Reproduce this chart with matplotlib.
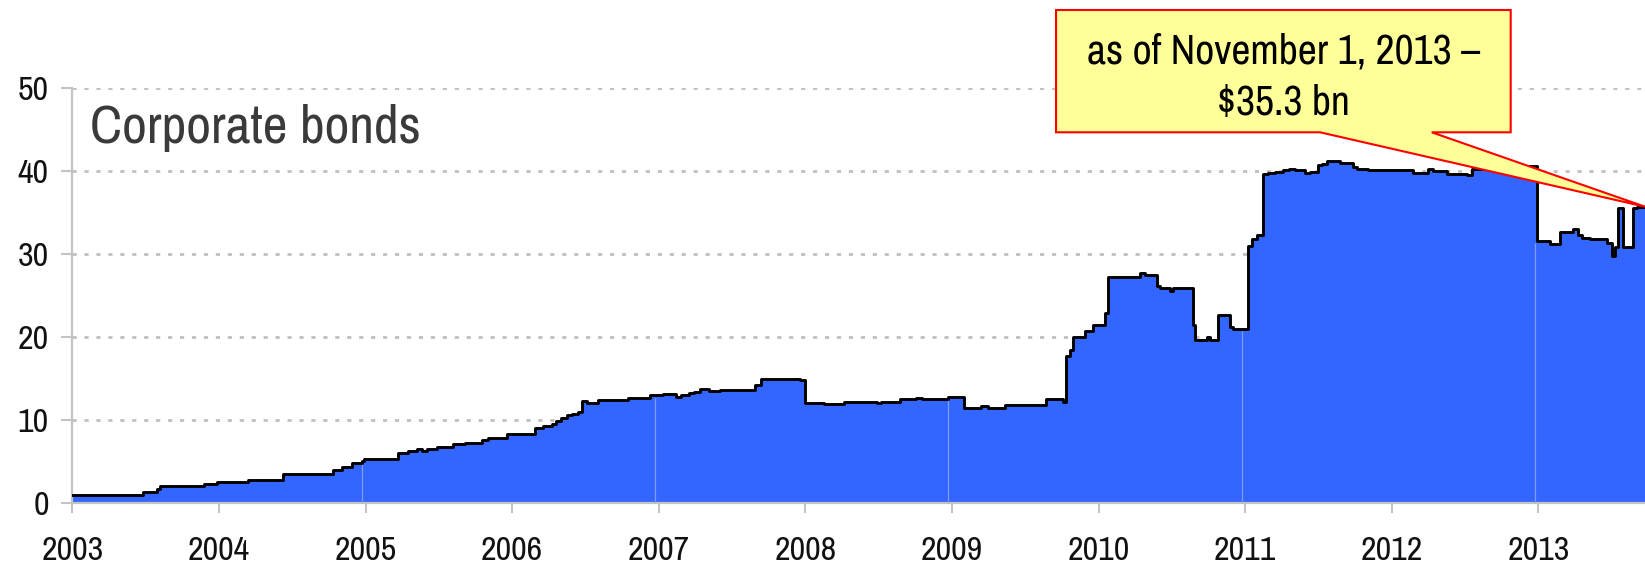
import numpy as np
import matplotlib
matplotlib.use('Agg')
from matplotlib import pyplot as plt
from matplotlib.patches import Polygon

plt.rcParams['font.family'] = ['Archivo Narrow', 'Liberation Sans', 'DejaVu Sans']

# step dates (decimal years) and outstanding volume, $ bn
dates = [2003.0, 2003.48, 2003.575, 2003.598, 2003.898, 2003.985, 2004.196, 2004.435,
         2004.781, 2004.838, 2004.906, 2004.974, 2004.99, 2005.224, 2005.292, 2005.349,
         2005.383, 2005.418, 2005.486, 2005.6, 2005.679, 2005.793, 2005.838, 2005.968,
         2006.157, 2006.208, 2006.271, 2006.296, 2006.334, 2006.372, 2006.41, 2006.447,
         2006.478, 2006.51, 2006.586, 2006.788, 2006.94, 2007.028, 2007.116, 2007.154,
         2007.204, 2007.242, 2007.28, 2007.343, 2007.419, 2007.495, 2007.659, 2007.696,
         2007.961, 2008.0, 2008.125, 2008.264, 2008.491, 2008.516, 2008.643, 2008.756,
         2008.794, 2008.971, 2009.084, 2009.198, 2009.249, 2009.362, 2009.64, 2009.755,
         2009.778, 2009.806, 2009.828, 2009.908, 2009.965, 2010.044, 2010.067, 2010.283,
         2010.317, 2010.397, 2010.42, 2010.488, 2010.51, 2010.647, 2010.658, 2010.738,
         2010.761, 2010.817, 2010.897, 2010.92, 2011.022, 2011.045, 2011.079, 2011.12,
         2011.158, 2011.204, 2011.26, 2011.301, 2011.34, 2011.408, 2011.442, 2011.499,
         2011.522, 2011.561, 2011.647, 2011.738, 2011.761, 2011.84, 2012.147, 2012.25,
         2012.284, 2012.375, 2012.511, 2012.545, 2012.7, 2012.85, 2012.989, 2013.08,
         2013.148, 2013.239, 2013.273, 2013.296, 2013.352, 2013.466, 2013.5, 2013.523,
         2013.546, 2013.58, 2013.648, 2013.671, 2013.84]
volume = [1.0, 1.35, 1.7, 2.05, 2.33, 2.57, 2.78, 3.55,
          4.0, 4.29, 4.82, 5.06, 5.31, 6.0, 6.24, 6.5,
          6.3, 6.5, 6.73, 7.06, 7.27, 7.55, 7.8, 8.35,
          9.0, 9.3, 9.56, 9.84, 10.24, 10.56, 10.76, 10.96,
          12.25, 12.0, 12.45, 12.7, 13.0, 13.1, 12.8, 13.0,
          13.25, 13.37, 13.73, 13.45, 13.65, 13.57, 14.2, 14.98,
          14.78, 12.0, 11.9, 12.2, 12.0, 12.2, 12.5, 12.7,
          12.5, 12.77, 11.5, 11.73, 11.5, 11.77, 12.55, 12.2,
          17.7, 18.4, 20.0, 20.7, 21.4, 22.9, 27.2, 27.7,
          27.5, 26.2, 25.9, 25.6, 25.9, 21.5, 19.6, 20.0,
          19.6, 22.6, 21.2, 21.0, 31.0, 31.8, 32.3, 39.6,
          39.8, 39.9, 40.1, 40.3, 40.1, 39.8, 39.9, 40.7,
          40.8, 41.2, 41.0, 40.5, 40.3, 40.1, 39.8, 40.2,
          40.0, 39.7, 39.5, 40.2, 40.4, 40.6, 31.6, 31.2,
          32.6, 33.0, 32.3, 31.9, 31.8, 31.3, 29.7, 30.8,
          35.5, 30.9, 35.5, 35.7, 35.7]

years = list(range(2003, 2014))
seam_years = [2005, 2007, 2009, 2011, 2013]
y_ticks = [0, 10, 20, 30, 40, 50]
title = 'Corporate bonds'
note_lines = ['as of November 1, 2013 \u2013', '$35.3 bn']

x = np.array(dates)
v = np.array(volume)

fig = plt.figure(figsize=(16.45, 5.66), dpi=100)
ax = fig.add_axes([0.04395, 0.1113, 0.95605, 0.7332])

ax.fill_between(x, 0, v, step='post', color='#3366ff', lw=0, zorder=2)
ax.plot(x, v, drawstyle='steps-post', color='black', lw=2.1, zorder=4)

# faint seams inside the area
for yr in seam_years:
    top = v[np.searchsorted(x, yr, side='right') - 1]
    ax.vlines(yr - 0.025, 0, top - 0.3, color='#7f9cff', lw=0.9, zorder=3)

ax.set_xlim(2003, 2013.727)
ax.set_ylim(0, 50)
ax.set_xticks(years)
ax.set_xticklabels([str(y) for y in years])
ax.set_yticks(y_ticks)

for yt in y_ticks[1:]:
    ax.axhline(yt, color='#c0c0c0', lw=2, linestyle=(0, (1.5, 2.8)), zorder=1)

for side in ['top', 'right']:
    ax.spines[side].set_visible(False)
for side in ['left', 'bottom']:
    ax.spines[side].set_color('#c4c4c4')
    ax.spines[side].set_linewidth(1.6)

ax.tick_params(axis='x', length=7.5, width=1.5, color='#c4c4c4', pad=16,
               labelsize=24.5, labelcolor='#111111')
ax.tick_params(axis='y', length=8, width=1.5, color='#c4c4c4', pad=9,
               labelsize=24.5, labelcolor='#111111')

ax.text(0.011, 0.8668, title, transform=ax.transAxes, fontsize=39,
        color='#3a3a3a', ha='left', va='baseline')

# callout box with a tail pointing at the last value
x0, x1 = 0.6255, 0.9146
yb, yt_ = 0.8933, 1.188
tip = (1.0, v[-1] / 50)
callout = Polygon([(x0, yt_), (x1, yt_), (x1, yb), (0.8644, yb), tip,
                   (0.7934, yb), (x0, yb)], closed=True,
                  facecolor='#ffff99', edgecolor='#ff0000', lw=1.5,
                  transform=ax.transAxes, clip_on=False, zorder=10)
ax.add_patch(callout)
ax.text(0.770, 1.058, note_lines[0], transform=ax.transAxes, fontsize=30,
        ha='center', va='baseline', color='black', zorder=11)
ax.text(0.770, 0.934, note_lines[1], transform=ax.transAxes, fontsize=30,
        ha='center', va='baseline', color='black', zorder=11)

fig.savefig('out.png', dpi=100)
